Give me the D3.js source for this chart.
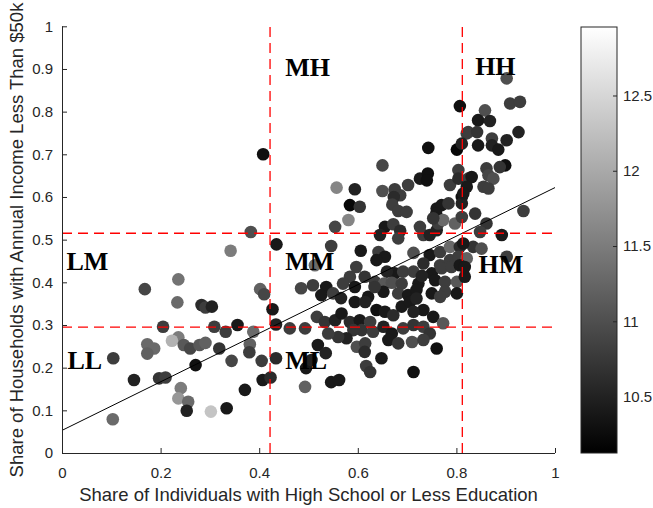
<!DOCTYPE html>
<html><head><meta charset="utf-8">
<script src="https://cdn.jsdelivr.net/npm/d3@7"></script>
<style>body{margin:0;background:#fff}</style>
</head><body>
<svg id="c" width="653" height="508"></svg>
<script>
// ---- data ----
const xVals = [0.383,0.435,0.342,0.236,0.168,0.402,0.410,0.234,0.283,0.291,0.304,0.427,0.205,0.309,0.332,0.356,0.388,0.434,0.236,0.223,0.173,0.187,0.173,0.247,0.260,0.279,0.291,0.319,0.381,0.380,0.104,0.344,0.405,0.434,0.271,0.146,0.197,0.210,0.407,0.423,0.241,0.236,0.256,0.253,0.302,0.334,0.371,0.103,0.408,
0.650,0.557,0.594,0.650,0.675,0.702,0.726,0.742,0.740,0.743,0.686,0.673,0.584,0.604,0.670,0.682,0.699,0.760,0.770,0.784,0.759,0.581,0.554,0.655,0.672,0.686,0.645,0.682,0.726,0.733,0.746,0.760,0.763,0.773,0.797,0.811,0.753,0.787,0.804,0.804,0.811,0.811,0.807,0.821,0.801,0.811,0.824,
0.546,0.606,0.642,0.655,0.713,0.746,0.767,0.787,0.807,0.638,0.733,0.767,0.787,0.804,0.821,0.675,0.659,0.692,0.713,0.750,0.770,0.790,0.807,0.635,0.653,0.669,0.689,0.723,0.757,0.777,0.801,0.817,0.652,0.682,0.702,0.719,0.750,0.777,0.801,0.730,
0.902,0.909,0.929,0.858,0.844,0.868,0.824,0.842,0.926,0.902,0.872,0.844,0.872,0.885,0.899,0.888,0.861,0.865,0.875,0.831,0.855,0.821,0.865,0.814,0.838,0.936,0.861,0.848,0.892,0.834,0.851,0.902,0.814,0.817,
0.597,0.584,0.614,0.570,0.485,0.509,0.536,0.594,0.526,0.550,0.621,0.634,0.566,0.594,0.615,0.638,0.655,0.672,0.689,0.706,0.719,0.733,0.753,0.773,0.767,0.517,0.533,0.554,0.567,0.584,0.604,0.625,0.608,0.631,0.652,0.669,0.692,0.713,0.733,0.591,0.577,0.560,0.540,0.462,0.493,0.495,0.519,0.535,0.506,0.546,0.562,0.598,0.615,0.617,0.625,0.648,0.662,0.682,0.710,0.713,0.746,0.760,0.493,0.614,0.713,0.733,0.513];
const yVals = [0.518,0.489,0.474,0.407,0.384,0.384,0.372,0.353,0.347,0.341,0.343,0.337,0.296,0.296,0.284,0.300,0.284,0.301,0.271,0.263,0.255,0.245,0.233,0.253,0.245,0.253,0.258,0.245,0.255,0.236,0.222,0.216,0.216,0.222,0.206,0.171,0.175,0.177,0.171,0.177,0.152,0.128,0.120,0.099,0.097,0.105,0.148,0.079,0.700,
0.674,0.622,0.618,0.614,0.618,0.628,0.643,0.655,0.639,0.715,0.604,0.600,0.581,0.577,0.582,0.567,0.565,0.573,0.581,0.585,0.561,0.546,0.530,0.530,0.536,0.521,0.511,0.503,0.530,0.511,0.511,0.522,0.538,0.546,0.538,0.553,0.550,0.628,0.663,0.643,0.600,0.585,0.813,0.749,0.711,0.725,0.643,
0.485,0.474,0.471,0.460,0.469,0.464,0.471,0.483,0.483,0.452,0.444,0.440,0.452,0.460,0.456,0.421,0.425,0.425,0.425,0.421,0.433,0.436,0.440,0.401,0.397,0.399,0.397,0.397,0.405,0.401,0.401,0.413,0.378,0.374,0.370,0.382,0.374,0.378,0.374,0.415,
0.878,0.819,0.823,0.803,0.780,0.778,0.752,0.752,0.752,0.733,0.737,0.721,0.721,0.711,0.674,0.670,0.667,0.651,0.643,0.647,0.624,0.624,0.620,0.608,0.561,0.567,0.538,0.518,0.511,0.483,0.479,0.460,0.491,0.436,
0.436,0.413,0.413,0.397,0.386,0.393,0.389,0.389,0.370,0.374,0.366,0.389,0.363,0.354,0.354,0.335,0.331,0.323,0.343,0.354,0.362,0.335,0.319,0.304,0.366,0.319,0.307,0.311,0.327,0.307,0.311,0.307,0.288,0.284,0.296,0.280,0.292,0.300,0.296,0.288,0.269,0.272,0.280,0.292,0.292,0.199,0.253,0.234,0.218,0.166,0.171,0.249,0.257,0.204,0.190,0.222,0.265,0.257,0.260,0.190,0.280,0.245,0.155,0.237,0.331,0.265,0.440];
const colorVals = [11.0,10.4,11.5,11.4,10.9,11.2,10.9,11.3,10.6,10.8,10.5,10.4,10.8,10.8,10.8,10.4,11.3,10.5,11.5,12.1,11.3,11.3,11.2,11.1,10.9,11.1,11.2,10.7,11.2,10.8,10.8,10.9,10.8,10.6,10.3,10.5,10.7,10.8,10.4,10.6,11.5,11.8,11.3,10.5,12.3,10.4,10.4,11.3,10.3,
10.9,11.6,10.5,11.0,10.8,10.8,10.4,10.3,10.3,10.3,10.8,10.6,10.2,10.7,10.8,10.8,10.8,10.4,10.4,10.7,10.4,11.6,10.9,10.4,10.8,10.6,10.5,10.8,10.8,10.8,10.5,10.5,10.8,11.3,11.2,10.8,10.7,10.8,10.8,10.6,10.3,10.5,10.3,10.8,10.2,10.5,10.8,
10.8,10.4,10.8,10.4,11.0,10.4,10.8,11.3,10.6,10.4,10.6,10.8,10.8,10.8,11.2,10.4,10.5,10.8,10.8,10.4,10.8,10.8,10.4,10.8,11.1,11.0,10.8,10.4,10.4,10.8,11.1,10.4,10.4,10.8,10.4,10.4,10.4,10.8,10.4,10.5,
11.0,10.8,10.8,11.0,10.4,10.5,10.8,10.7,10.5,10.5,10.8,10.4,10.5,10.4,10.3,10.7,10.8,10.9,11.0,10.4,10.8,10.4,10.8,10.4,10.7,10.8,10.7,10.8,10.4,10.7,11.0,10.8,10.4,10.4,
10.8,10.8,10.7,10.8,10.9,10.8,10.4,10.4,10.4,10.8,10.4,10.7,10.5,10.4,10.5,10.3,10.4,10.6,10.4,10.4,10.5,10.4,10.4,11.1,10.8,10.8,10.7,10.5,10.4,10.6,10.4,10.8,10.7,10.8,10.5,10.4,10.8,10.7,10.8,10.7,10.5,10.7,10.8,10.8,10.8,10.4,10.4,10.5,10.5,10.4,10.4,11.0,10.8,10.8,10.7,10.4,10.4,10.7,11.0,10.3,10.7,10.3,11.2,10.6,10.5,10.8,11.3];

const xTicks = [0,0.2,0.4,0.6,0.8,1];
const yTicks = [0,0.1,0.2,0.3,0.4,0.5,0.6,0.7,0.8,0.9,1];
const colorTicks = [10.5,11,11.5,12,12.5];
const colorDomain = [10.125,12.955];
const xCuts = [0.422,0.812];
const yCuts = [0.295,0.515];
const fitX = [0,1];
const fitY = [0.053,0.622];
const quadLabels = ["MH","HH","LM","MM","HM","LL","ML"];
const quadX = [0.453,0.838,0.009,0.453,0.845,0.011,0.453];
const quadY = [0.883,0.887,0.428,0.428,0.422,0.198,0.198];
const xLabel = "Share of Individuals with High School or Less Education";
const yLabel = "Share of Households with Annual Income Less Than $50k";

// ---- drawing ----
const svg = d3.select("#c");
svg.append("rect").attr("width",653).attr("height",508).attr("fill","#fff");
const x = d3.scaleLinear().domain([0,1]).range([62,555]);
const y = d3.scaleLinear().domain([0,1]).range([453,26.3]);
const cs = d3.scaleLinear().domain(colorDomain).range(["#000","#fff"]).clamp(true);
const axisCol = "#262626";
const sans = "'Liberation Sans', Arial, Helvetica, sans-serif";

const pts = xVals.map((v,i)=>({x:v,y:yVals[i],c:colorVals[i]}));
svg.append("g").selectAll("circle").data(pts).join("circle")
  .attr("cx",d=>x(d.x)).attr("cy",d=>y(d.y)).attr("r",6.3)
  .attr("fill",d=>cs(d.c));

// fit line
svg.append("path").datum(fitX.map((v,i)=>[v,fitY[i]]))
  .attr("d",d3.line().x(d=>x(d[0])).y(d=>y(d[1])))
  .attr("stroke","#000").attr("stroke-width",1).attr("fill","none");

// dashed cut lines
const g = svg.append("g");
xCuts.forEach(v=>g.append("line").attr("x1",x(v)).attr("x2",x(v)).attr("y1",y(0)).attr("y2",y(1))
  .attr("stroke","#ff0000").attr("stroke-width",1.3).attr("stroke-dasharray","10,6"));
yCuts.forEach(v=>g.append("line").attr("x1",x(0)).attr("x2",x(1)-2).attr("y1",y(v)).attr("y2",y(v))
  .attr("stroke","#ff0000").attr("stroke-width",1.3).attr("stroke-dasharray","10,6"));

// quadrant labels
svg.append("g").selectAll("text").data(quadLabels).join("text")
  .attr("x",(d,i)=>x(quadX[i])).attr("y",(d,i)=>y(quadY[i]))
  .attr("font-family","'Liberation Serif','Times New Roman',serif").attr("font-weight","bold")
  .attr("font-size",26).attr("fill","#000").text(d=>d);

// axes
const xa = svg.append("g").attr("transform","translate(0,453)")
  .call(d3.axisBottom(x).tickValues(xTicks).tickFormat(d3.format("~g")).tickSizeInner(-5).tickSizeOuter(0).tickPadding(14));
const ya = svg.append("g").attr("transform","translate(62,0)")
  .call(d3.axisLeft(y).tickValues(yTicks).tickFormat(d3.format("~g")).tickSizeInner(-5).tickSizeOuter(0).tickPadding(9));
[xa,ya].forEach(a=>{
  a.select(".domain").attr("stroke",axisCol).attr("stroke-width",1);
  a.selectAll(".tick line").attr("stroke",axisCol);
  a.selectAll(".tick text").attr("fill",axisCol).attr("font-size",15).attr("font-family",sans);
});
xa.select(".domain").attr("d","M62,0.5H555");
ya.select(".domain").attr("d","M0.5,453V26.3");

svg.append("text").attr("x",308.5).attr("y",501).attr("text-anchor","middle")
  .attr("font-family",sans).attr("font-size",18.5).attr("fill",axisCol).text(xLabel);
svg.append("text").attr("transform","translate(23,240) rotate(-90)").attr("text-anchor","middle")
  .attr("font-family",sans).attr("font-size",18.5).attr("fill",axisCol).text(yLabel);

// colorbar
const cb = d3.scaleLinear().domain(colorDomain).range([453,27]);
const defs = svg.append("defs");
const grad = defs.append("linearGradient").attr("id","gray").attr("x1",0).attr("y1",1).attr("x2",0).attr("y2",0);
grad.append("stop").attr("offset","0%").attr("stop-color","#000");
grad.append("stop").attr("offset","100%").attr("stop-color","#fff");
svg.append("rect").attr("x",581).attr("y",cb(colorDomain[1])).attr("width",36)
  .attr("height",cb(colorDomain[0])-cb(colorDomain[1])).attr("fill","url(#gray)")
  .attr("stroke",axisCol).attr("stroke-width",1);
const ca = svg.append("g").attr("transform","translate(617,0)")
  .call(d3.axisRight(cb).tickValues(colorTicks).tickFormat(d3.format("~g")).tickSizeInner(-4).tickSizeOuter(0).tickPadding(6));
ca.select(".domain").remove();
ca.selectAll(".tick line").attr("stroke",axisCol);
ca.selectAll(".tick text").attr("fill",axisCol).attr("font-size",15).attr("font-family",sans);
</script>
</body></html>
